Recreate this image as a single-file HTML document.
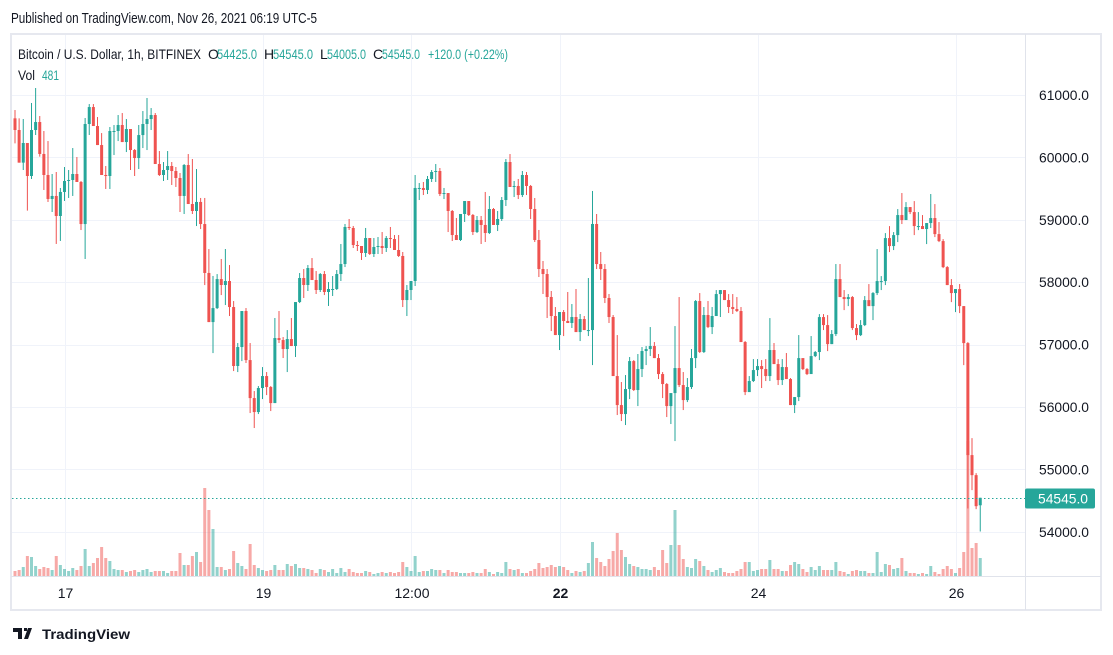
<!DOCTYPE html>
<html><head><meta charset="utf-8"><style>
html,body{margin:0;padding:0;background:#fff;}
svg{display:block;font-family:"Liberation Sans",sans-serif;}
</style></head><body>
<svg id="chart" width="1113" height="655" viewBox="0 0 1113 655" xmlns="http://www.w3.org/2000/svg">
<text x="11" y="23" font-size="15" fill="#131722" textLength="306" lengthAdjust="spacingAndGlyphs">Published on TradingView.com, Nov 26, 2021 06:19 UTC-5</text>
<rect x="11" y="34" width="1090" height="576" fill="none" stroke="#e6e8ef" stroke-width="2"/>
<g id="grid"></g>
<line x1="1025.5" y1="34" x2="1025.5" y2="610" stroke="#e0e3eb"/>
<line x1="11" y1="576.5" x2="1101" y2="576.5" stroke="#e0e3eb"/>
<g id="vol"></g>
<g id="candles"></g>
<g id="axes"></g>
<g font-size="14">
<text x="18" y="59" fill="#131722" textLength="183" lengthAdjust="spacingAndGlyphs">Bitcoin / U.S. Dollar, 1h, BITFINEX</text>
<text x="208" y="59" fill="#131722">O</text><text x="217" y="59" fill="#26a69a" textLength="40" lengthAdjust="spacingAndGlyphs">54425.0</text>
<text x="264" y="59" fill="#131722">H</text><text x="273" y="59" fill="#26a69a" textLength="40" lengthAdjust="spacingAndGlyphs">54545.0</text>
<text x="320" y="59" fill="#131722">L</text><text x="327" y="59" fill="#26a69a" textLength="39" lengthAdjust="spacingAndGlyphs">54005.0</text>
<text x="373" y="59" fill="#131722">C</text><text x="382" y="59" fill="#26a69a" textLength="38" lengthAdjust="spacingAndGlyphs">54545.0</text>
<text x="428" y="59" fill="#26a69a" textLength="80" lengthAdjust="spacingAndGlyphs">+120.0 (+0.22%)</text>
<text x="18" y="80" fill="#131722" textLength="17" lengthAdjust="spacingAndGlyphs">Vol</text>
<text x="42" y="80" fill="#26a69a" textLength="17" lengthAdjust="spacingAndGlyphs">481</text>
</g>
<g>
<path d="M13 628h9v11h-4v-7h-5z M24 628h3v3h-3z M28 628h4l-4 11h-4z" fill="#131722"/>
<text x="42" y="639" font-size="14" fill="#131722" font-weight="bold" textLength="88" lengthAdjust="spacingAndGlyphs">TradingView</text>
</g>
</svg>
<script>
const closes=[60439,59916,60231,59702,60439,60567,60055,59718,59334,59382,59061,59446,59622,59638,59734,59606,58932,60535,60807,60503,60198,59718,59702,60423,60423,60519,60246,60455,60118,59990,60358,60535,60615,60679,59894,59718,59798,59862,59782,59670,59382,59878,59253,59141,59286,58932,58148,57361,57585,58050,
57955,58019,57602,56657,56961,57538,56752,56143,55919,56304,56496,56320,56063,57105,57073,56929,57089,56977,57682,58067,57955,58227,58035,57875,58131,57843,57891,57891,58131,58291,58885,58869,58596,58580,58468,58708,58452,58564,58580,58548,58708,58692,58516,58420,57714,57875,58019,59510,
59510,59478,59654,59766,59782,59413,59429,59141,58756,58676,59093,59301,59077,58804,58997,58917,58788,59173,58917,59013,59317,59926,59526,59542,59397,59718,59542,59173,58676,58211,58131,57763,57458,57153,57522,57378,57346,57442,57201,57410,57233,57233,58933,58291,58211,57747,57442,56496,56031,
55887,56288,56736,56272,56608,56897,56929,56977,56784,56528,56368,56015,56223,56624,56352,56111,56320,56784,57698,56881,57474,57281,57458,57810,57874,57714,57602,57570,57538,57041,56239,56416,56592,56656,56608,56496,56913,56688,56432,56640,56448,56031,56159,56784,56608,56528,56816,56881,
57441,57313,57008,57169,58050,57762,57730,57762,57265,57152,57313,57713,57617,57826,58018,58018,58707,58579,58755,59076,58996,59204,59124,58900,58900,58852,58948,59028,58771,58659,58242,57954,57826,57890,57617,57024,55229,54908,54411,54545];
const highs=[60759,60626,60615,60215,60872,61112,60663,60423,60262,59734,59766,59510,59846,59798,60150,60006,59622,60631,60855,60855,60647,60390,59862,60487,60519,60679,60711,60615,60439,60134,60519,60743,60952,60791,60711,60102,59926,60102,59926,59846,59750,59894,60054,59974,59814,59350,59350,58531,58100,58130,
58372,58532,58275,57698,57025,57538,57586,57025,56256,56336,56640,56560,56336,57426,57538,57121,57233,57426,57682,58147,58211,58275,58387,58179,58147,58179,58003,58099,58195,58612,58933,59013,58901,58660,58580,58869,58708,58708,58724,58804,58740,58885,58756,58756,58484,57955,58019,59718,
59590,59606,59702,59798,59894,59830,59510,59429,59157,59029,59093,59301,59301,59093,59061,59061,59446,59381,59189,59141,59365,59974,60054,59622,59654,59782,59766,59558,59349,58837,58340,58211,57859,57602,57522,57554,57843,57650,57891,57490,57458,58067,59462,59093,58484,58291,57811,57474,57153,
56400,56512,56801,56752,56849,56961,56977,57281,57041,56849,56560,56384,56223,57297,57762,56560,56464,56929,57714,57826,57602,57698,57602,57874,57874,57874,57810,57810,57762,57602,57057,56496,56768,56768,56752,56768,57425,57025,56768,56768,56865,56464,56159,57153,56769,56624,57137,56897,
57489,57489,57473,57233,58291,58291,57874,57810,57778,57329,57393,57778,57970,57842,58531,58098,58787,58899,58803,59172,59429,59284,59204,59300,59124,59076,58948,59413,59252,58964,58691,58258,58050,57890,57970,57617,57040,55501,54940,54545];
const lows=[60225,59916,59798,59147,59654,60359,60012,59478,59286,59125,58613,58661,59302,59350,59382,59606,58836,58372,60359,60503,60198,59718,59494,59494,60038,60262,60246,60086,59798,59702,59814,60150,60118,60439,59894,59702,59622,59638,59558,59526,59125,59093,59253,59093,58900,58852,57954,57361,56864,57570,
57794,57634,57458,56576,56560,56736,56705,55903,55663,55887,56127,56191,55935,56063,57025,56785,56560,56977,56801,57666,57747,57859,58035,57811,57843,57794,57619,57779,57875,58019,58243,58837,58548,58500,58356,58404,58436,58404,58452,58452,58484,58548,58516,58404,57602,57458,57714,57939,
59317,59397,59413,59606,59606,59381,59333,58804,58660,58676,58660,58965,59061,58756,58788,58612,58644,58772,58917,58820,58981,59221,59526,59365,59333,59365,59397,59013,58644,58083,57811,57426,57217,57153,56913,57137,57346,57266,57201,57057,57233,57137,56672,58211,58035,57666,57346,56496,55871,
55775,55711,56127,56256,56015,56480,56672,56817,56784,56448,56143,55839,55727,55454,56320,55951,56079,56288,56624,56865,56865,57265,57169,57458,57442,57714,57506,57490,57522,57041,56191,56255,56400,56496,56304,56416,56416,56688,56352,56352,56448,56031,55903,56095,56592,56512,56544,56800,
56752,57233,56896,57008,57137,57762,57553,57617,57233,57072,57137,57297,57617,57393,57794,57874,57954,58483,58515,58643,58932,58996,59092,58755,58835,58852,58611,58868,58723,58643,58226,57954,57681,57521,57505,56671,54374,54668,54363,54005];
const firstOpen=60626;
const lastOpen=54425;
const volumes=[5,6,9,20,19,10,7,9,8,6,20,11,7,5,8,6,10,27,10,13,18,29,18,15,7,6,6,4,5,6,4,6,7,4,5,5,5,3,5,5,23,11,11,20,24,14,88,66,47,9,9,6,7,25,13,10,7,32,11,8,6,5,6,11,6,6,12,10,12,8,8,7,6,3,7,6,4,7,
3,8,4,7,4,3,3,5,4,2,3,4,3,4,3,4,14,9,5,20,4,5,5,7,6,6,3,6,4,4,3,3,3,4,3,3,7,4,2,4,3,14,7,6,7,3,3,5,7,13,8,9,11,9,10,9,6,3,5,4,5,13,34,18,14,10,17,25,43,26,19,12,10,9,7,7,6,9,6,26,
13,31,66,31,17,9,8,17,15,10,6,4,6,8,4,3,3,5,7,14,14,5,6,7,7,16,7,7,5,5,11,14,12,7,4,9,6,10,6,6,6,14,5,4,2,5,6,5,5,3,3,24,4,12,11,7,8,18,5,3,3,2,3,2,10,4,2,7,10,7,3,8,24,135,28,33,18];
const priceTicks=[54000,55000,56000,57000,58000,59000,60000,61000];
const timeTickIdx=[12,60,96,132,180,228];
const timeTickLabels=["17","19","12:00","22","24","26"];
const lastPrice=54545;

const NS="http://www.w3.org/2000/svg";
const UP="#26a69a",DN="#ef5350";
function yP(p){return 95+(61000-p)*0.0624;}
function xI(i){return 15+i*4.125;}
function yV(v){return 576-v*1.0;}
function mk(tag,attrs,parent){const e=document.createElementNS(NS,tag);for(const k in attrs)e.setAttribute(k,attrs[k]);parent.appendChild(e);return e;}
const grid=document.getElementById('grid'),axes=document.getElementById('axes'),cg=document.getElementById('candles'),vg=document.getElementById('vol');
priceTicks.forEach(p=>{
  const l=mk('line',{x1:12,x2:1025,y1:Math.round(yP(p))+0.5,y2:Math.round(yP(p))+0.5,stroke:'#f0f3fa'},grid);
  
  
  const t=mk('text',{x:1039,y:yP(p)+5,'font-size':14,fill:'#131722',textLength:50,lengthAdjust:'spacingAndGlyphs'},axes);
  t.textContent=p.toFixed(1);
  
  
});
timeTickIdx.forEach((ix,k)=>{
  const x=Math.round(xI(ix))+0.5;
  const l=mk('line',{x1:x,x2:x,y1:35,y2:576,stroke:'#f0f3fa'},grid);
  
  
  const t=mk('text',{x:xI(ix)+1,y:598,'font-size':14,fill:'#131722','text-anchor':'middle','font-weight':timeTickLabels[k]==="22"?'bold':'normal'},axes);
  t.textContent=timeTickLabels[k];
  
  
});
const n=closes.length;
for(let i=0;i<n;i++){
  const o=i===0?firstOpen:(i===n-1?lastOpen:closes[i-1]);
  const c=closes[i];
  const up=c>=o;
  const col=up?UP:DN;
  const x=xI(i);
  const vb=mk('rect',{x:x-1.5,y:yV(volumes[i]),width:3,height:volumes[i]*1.0,fill:up?'rgba(38,166,154,0.5)':'rgba(239,83,80,0.5)'},vg);
  
  
  const w=mk('rect',{x:x-0.5,y:yP(highs[i]),width:1,height:Math.max(1,yP(lows[i])-yP(highs[i])),fill:col},cg);
  
  
  const top=yP(Math.max(o,c)),bot=yP(Math.min(o,c));
  const b=mk('rect',{x:x-1.5,y:top,width:3,height:Math.max(1,bot-top),fill:col},cg);
  
  
}
const ly=Math.round(yP(lastPrice))+0.5;
const pl=mk('line',{x1:12,x2:1025,y1:ly,y2:ly,stroke:UP,'stroke-dasharray':'1.5 2.5'},axes);


const pb=mk('rect',{x:1025,y:ly-10,width:70,height:20,rx:2,fill:UP},axes);


const pt=mk('text',{x:1038,y:ly+5,'font-size':14,fill:'#fff',textLength:50,lengthAdjust:'spacingAndGlyphs'},axes);
pt.textContent=lastPrice.toFixed(1);


</script>
</body></html>
